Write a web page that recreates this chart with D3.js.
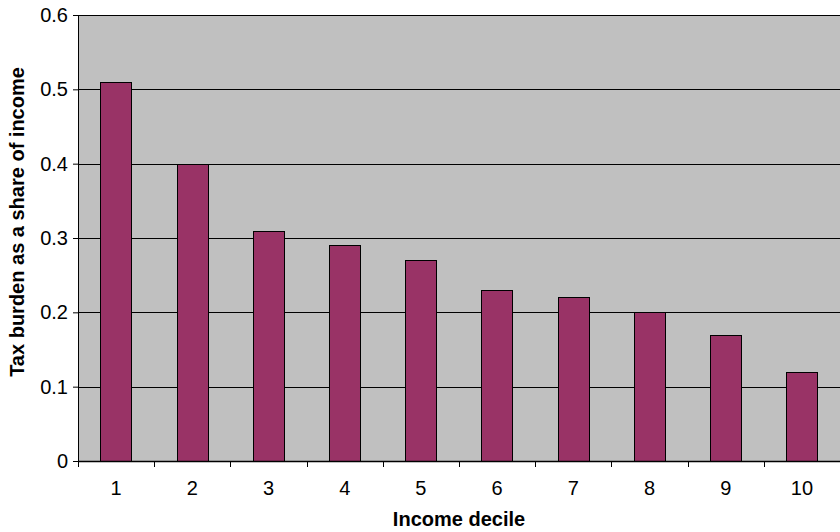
<!DOCTYPE html>
<html><head><meta charset="utf-8">
<script src="https://cdn.jsdelivr.net/npm/d3@7"></script>
<style>body{margin:0;background:#fff}svg{display:block;font-family:"Liberation Sans",Arial,sans-serif}</style>
</head><body><svg id="c" width="840" height="532"></svg>
<script>
const categories = ["1","2","3","4","5","6","7","8","9","10"];
const values = [0.51,0.40,0.31,0.29,0.27,0.23,0.22,0.20,0.17,0.12];
const yTicks = [0,0.1,0.2,0.3,0.4,0.5,0.6];
const xTitle = "Income decile";
const yTitle = "Tax burden as a share of income";

const svg = d3.select("#c");
const m = {l:78,r:0,t:15,b:71};
const W = 840, H = 532;
const x = d3.scaleBand().domain(categories).range([m.l, W-m.r]).paddingInner(0.59).paddingOuter(0.295);
const xb = d3.scaleBand().domain(categories).range([m.l, W-m.r]);
const y = d3.scaleLinear().domain([0,0.6]).range([H-m.b, m.t]);

svg.append("rect").attr("x",m.l).attr("y",m.t).attr("width",W-m.r-m.l).attr("height",H-m.b-m.t).attr("fill","#c0c0c0");
svg.append("g").selectAll("line").data(yTicks.filter(d=>d>0)).join("line")
  .attr("x1",m.l).attr("x2",W-m.r).attr("y1",d=>Math.round(y(d))+0.5).attr("y2",d=>Math.round(y(d))+0.5)
  .attr("stroke","#000").attr("stroke-width",1);
svg.append("g").selectAll("rect").data(values).join("rect")
  .attr("x",(d,i)=>Math.round(x(categories[i]))+0.5).attr("width",Math.round(x.bandwidth()))
  .attr("y",d=>Math.round(y(d))+0.5).attr("height",d=>Math.round(y(0))-Math.round(y(d)))
  .attr("fill","#993366").attr("stroke","#000").attr("stroke-width",1);

const ya = svg.append("g").attr("transform",`translate(${m.l},0)`)
  .call(d3.axisLeft(y).tickValues(yTicks).tickSize(5).tickPadding(5).tickFormat(d=>d===0?"0":d3.format(".1f")(d)));
ya.selectAll("text").attr("font-size",20).attr("fill","#000").attr("font-family","Liberation Sans, Arial, sans-serif");
ya.select(".domain").attr("stroke","#000");

const xa = svg.append("g").attr("transform",`translate(0,${Math.round(y(0))})`);
xa.append("line").attr("x1",m.l).attr("x2",W).attr("y1",0.5).attr("y2",0.5).attr("stroke","#000").attr("stroke-width",1.5);
xa.selectAll("line.t").data(categories).join("line").attr("class","t")
  .attr("x1",d=>Math.round(xb(d))+0.5).attr("x2",d=>Math.round(xb(d))+0.5).attr("y1",0).attr("y2",6).attr("stroke","#000");
xa.selectAll("text").data(categories).join("text")
  .attr("x",d=>xb(d)+xb.bandwidth()/2).attr("y",34).attr("text-anchor","middle")
  .attr("font-size",20).text(d=>d);

svg.append("text").attr("x",(m.l+W)/2).attr("y",526).attr("text-anchor","middle")
  .attr("font-size",20).attr("font-weight","bold").text(xTitle);
svg.append("text").attr("transform",`translate(24,222) rotate(-90)`).attr("text-anchor","middle")
  .attr("font-size",20).attr("font-weight","bold").text(yTitle);
</script></body></html>
